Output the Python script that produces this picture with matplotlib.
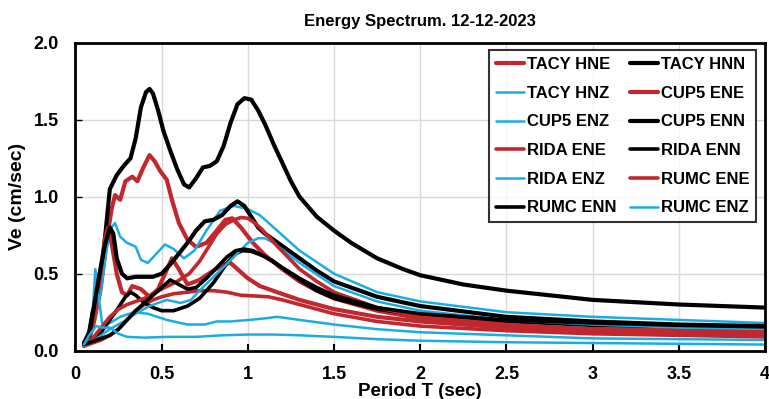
import matplotlib
matplotlib.use("Agg")
import matplotlib.pyplot as plt

plt.rcParams["font.family"] = ["Liberation Sans", "DejaVu Sans"]
plt.rcParams["font.weight"] = "bold"

RED = "#C1272D"
BLUE = "#1AADE4"
BLACK = "#000000"

# period (sec) / Ve (cm/sec)
t_tacy_hne = [0.05, 0.08, 0.11, 0.145, 0.18, 0.21, 0.23, 0.26, 0.29, 0.33, 0.36, 0.39, 0.43, 0.46, 0.49, 0.53, 0.56, 0.6, 0.65, 0.7, 0.76, 0.82, 0.87, 0.91, 0.96, 1.03, 1.1, 1.2, 1.3, 1.4, 1.5, 1.75, 2.0, 2.5, 3.0, 3.5, 4.0]
v_tacy_hne = [0.04, 0.07, 0.2, 0.39, 0.7, 0.92, 1.01, 0.98, 1.1, 1.13, 1.1, 1.18, 1.27, 1.23, 1.17, 1.11, 0.98, 0.83, 0.72, 0.675, 0.7, 0.78, 0.85, 0.86, 0.8, 0.7, 0.62, 0.53, 0.45, 0.39, 0.34, 0.26, 0.21, 0.16, 0.14, 0.13, 0.12]

t_tacy_hnn = [0.05, 0.08, 0.1, 0.13, 0.16, 0.2, 0.24, 0.28, 0.32, 0.35, 0.38, 0.41, 0.43, 0.45, 0.48, 0.51, 0.55, 0.59, 0.63, 0.66, 0.7, 0.74, 0.78, 0.82, 0.86, 0.9, 0.94, 0.98, 1.02, 1.06, 1.1, 1.15, 1.2, 1.25, 1.3, 1.4, 1.5, 1.6, 1.75, 1.9, 2.0, 2.25, 2.5, 2.75, 3.0, 3.25, 3.5, 3.75, 4.0]
v_tacy_hnn = [0.05, 0.12, 0.25, 0.36, 0.6, 1.05, 1.14, 1.2, 1.25, 1.38, 1.58, 1.68, 1.70, 1.67, 1.56, 1.43, 1.3, 1.18, 1.08, 1.06, 1.12, 1.19, 1.2, 1.23, 1.33, 1.48, 1.6, 1.64, 1.63, 1.56, 1.47, 1.34, 1.22, 1.1, 1.0, 0.87, 0.78, 0.7, 0.6, 0.53, 0.49, 0.43, 0.39, 0.36, 0.33, 0.315, 0.30, 0.29, 0.28]

t_tacy_hnz = [0.05, 0.08, 0.11, 0.15, 0.18, 0.21, 0.23, 0.26, 0.3, 0.35, 0.38, 0.42, 0.47, 0.52, 0.57, 0.63, 0.69, 0.76, 0.84, 0.92, 1.0, 1.07, 1.17, 1.3, 1.5, 1.75, 2.0, 2.5, 3.0, 3.5, 4.0]
v_tacy_hnz = [0.05, 0.1, 0.2, 0.4, 0.65, 0.8, 0.83, 0.74, 0.7, 0.675, 0.59, 0.57, 0.63, 0.69, 0.66, 0.6, 0.65, 0.78, 0.91, 0.94, 0.92, 0.88, 0.78, 0.65, 0.5, 0.38, 0.32, 0.25, 0.22, 0.2, 0.18]

t_cup5_ene = [0.05, 0.1, 0.14, 0.17, 0.19, 0.21, 0.24, 0.27, 0.3, 0.33, 0.38, 0.43, 0.48, 0.52, 0.56, 0.6, 0.65, 0.72, 0.8, 0.86, 0.9, 0.95, 1.0, 1.07, 1.17, 1.3, 1.5, 1.75, 2.0, 2.5, 3.0, 3.5, 4.0]
v_cup5_ene = [0.03, 0.15, 0.45, 0.72, 0.8, 0.7, 0.5, 0.38, 0.36, 0.42, 0.4, 0.35, 0.4, 0.5, 0.6, 0.53, 0.43, 0.46, 0.52, 0.56, 0.57, 0.52, 0.47, 0.42, 0.38, 0.33, 0.27, 0.22, 0.19, 0.15, 0.13, 0.12, 0.11]

t_cup5_enz = [0.05, 0.08, 0.1, 0.116, 0.135, 0.155, 0.2, 0.26, 0.34, 0.42, 0.53, 0.65, 0.75, 0.82, 0.9, 1.01, 1.1, 1.17, 1.3, 1.5, 1.75, 2.0, 2.5, 3.0, 3.5, 4.0]
v_cup5_enz = [0.04, 0.1, 0.25, 0.53, 0.35, 0.18, 0.18, 0.22, 0.25, 0.24, 0.2, 0.17, 0.17, 0.19, 0.19, 0.2, 0.21, 0.22, 0.2, 0.17, 0.14, 0.12, 0.1, 0.08, 0.075, 0.07]

t_cup5_enn = [0.05, 0.08, 0.11, 0.14, 0.17, 0.2, 0.22, 0.24, 0.27, 0.3, 0.35, 0.4, 0.45, 0.5, 0.55, 0.6, 0.65, 0.7, 0.75, 0.8, 0.85, 0.9, 0.94, 0.98, 1.02, 1.06, 1.1, 1.15, 1.2, 1.3, 1.4, 1.5, 1.75, 2.0, 2.5, 3.0, 3.5, 4.0]
v_cup5_enn = [0.05, 0.1, 0.3, 0.5, 0.68, 0.8, 0.76, 0.6, 0.5, 0.47, 0.48, 0.48, 0.48, 0.5, 0.56, 0.63, 0.7, 0.78, 0.84, 0.85, 0.88, 0.94, 0.97, 0.94, 0.87, 0.8, 0.76, 0.72, 0.68, 0.6, 0.52, 0.45, 0.35, 0.29, 0.22, 0.19, 0.17, 0.16]

t_rida_ene = [0.05, 0.1, 0.15, 0.2, 0.25, 0.3, 0.35, 0.4, 0.45, 0.5, 0.57, 0.65, 0.72, 0.8, 0.88, 0.96, 1.05, 1.12, 1.2, 1.3, 1.4, 1.5, 1.75, 2.0, 2.5, 3.0, 3.5, 4.0]
v_rida_ene = [0.03, 0.05, 0.07, 0.1, 0.14, 0.2, 0.26, 0.3, 0.33, 0.35, 0.37, 0.38, 0.39, 0.39, 0.38, 0.36, 0.355, 0.35, 0.33, 0.3, 0.27, 0.24, 0.19, 0.16, 0.13, 0.11, 0.1, 0.09]

t_rida_enn = [0.05, 0.1, 0.15, 0.2, 0.25, 0.29, 0.32, 0.35, 0.4, 0.45, 0.5, 0.57, 0.65, 0.72, 0.8, 0.88, 0.93, 0.97, 1.02, 1.08, 1.15, 1.22, 1.3, 1.4, 1.5, 1.75, 2.0, 2.5, 3.0, 3.5, 4.0]
v_rida_enn = [0.05, 0.07, 0.12, 0.2, 0.28, 0.35, 0.38, 0.36, 0.31, 0.28, 0.26, 0.26, 0.29, 0.34, 0.44, 0.57, 0.63, 0.65, 0.645, 0.62, 0.58, 0.52, 0.46, 0.39, 0.34, 0.27, 0.23, 0.19, 0.165, 0.155, 0.145]

t_rida_enz = [0.05, 0.1, 0.15, 0.2, 0.28, 0.35, 0.43, 0.53, 0.61, 0.67, 0.72, 0.82, 0.92, 1.0, 1.06, 1.1, 1.15, 1.3, 1.5, 1.75, 2.0, 2.5, 3.0, 3.5, 4.0]
v_rida_enz = [0.03, 0.06, 0.1, 0.14, 0.19, 0.24, 0.29, 0.33, 0.31, 0.33, 0.39, 0.5, 0.61, 0.7, 0.73, 0.73, 0.7, 0.57, 0.42, 0.32, 0.26, 0.2, 0.17, 0.15, 0.14]

t_rumc_ene = [0.05, 0.1, 0.15, 0.2, 0.25, 0.3, 0.35, 0.4, 0.45, 0.5, 0.59, 0.66, 0.72, 0.77, 0.82, 0.87, 0.92, 0.96, 1.0, 1.04, 1.08, 1.17, 1.3, 1.4, 1.5, 1.75, 2.0, 2.5, 3.0, 3.5, 4.0]
v_rumc_ene = [0.04, 0.08, 0.15, 0.22, 0.27, 0.3, 0.32, 0.34, 0.37, 0.4, 0.45, 0.5, 0.58, 0.67, 0.76, 0.82, 0.85, 0.865, 0.86, 0.83, 0.79, 0.68, 0.53, 0.45, 0.38, 0.28, 0.22, 0.17, 0.14, 0.13, 0.12]

t_rumc_enn = [0.05, 0.1, 0.15, 0.2, 0.25, 0.3, 0.35, 0.4, 0.45, 0.5, 0.55, 0.6, 0.65, 0.7, 0.76, 0.82, 0.88, 0.93, 0.98, 1.03, 1.1, 1.2, 1.3, 1.4, 1.5, 1.75, 2.0, 2.5, 3.0, 3.5, 4.0]
v_rumc_enn = [0.04, 0.06, 0.08, 0.1, 0.14, 0.2, 0.26, 0.31, 0.36, 0.41, 0.46, 0.43, 0.4, 0.41, 0.47, 0.54, 0.61, 0.65, 0.66, 0.65, 0.61, 0.54, 0.47, 0.41, 0.36, 0.28, 0.24, 0.2, 0.18, 0.165, 0.155]

t_rumc_enz = [0.05, 0.08, 0.12, 0.16, 0.2, 0.25, 0.3, 0.4, 0.53, 0.7, 0.85, 1.0, 1.15, 1.3, 1.5, 1.75, 2.0, 2.5, 3.0, 3.5, 4.0]
v_rumc_enz = [0.04, 0.1, 0.16, 0.15, 0.15, 0.11, 0.09, 0.085, 0.09, 0.09, 0.1, 0.105, 0.105, 0.1, 0.09, 0.075, 0.065, 0.055, 0.05, 0.045, 0.04]

labels = ["TACY HNE", "TACY HNN", "TACY HNZ", "CUP5 ENE", "CUP5 ENZ", "CUP5 ENN",
          "RIDA ENE", "RIDA ENN", "RIDA ENZ", "RUMC ENE", "RUMC ENN", "RUMC ENZ"]
periods = [t_tacy_hne, t_tacy_hnn, t_tacy_hnz, t_cup5_ene, t_cup5_enz, t_cup5_enn,
           t_rida_ene, t_rida_enn, t_rida_enz, t_rumc_ene, t_rumc_enn, t_rumc_enz]
values = [v_tacy_hne, v_tacy_hnn, v_tacy_hnz, v_cup5_ene, v_cup5_enz, v_cup5_enn,
          v_rida_ene, v_rida_enn, v_rida_enz, v_rumc_ene, v_rumc_enn, v_rumc_enz]
colors = [RED, BLACK, BLUE, RED, BLUE, BLACK, RED, BLACK, BLUE, RED, BLACK, BLUE]
widths = [3.0, 3.0, 1.8, 3.0, 1.8, 3.0, 2.6, 2.6, 1.8, 2.6, 2.6, 1.8]

fig = plt.figure(figsize=(7.69, 3.99), dpi=100)
ax = fig.add_axes([0.098, 0.121, 0.897, 0.772])

lines = []
for t, v, c, w, lab in zip(periods, values, colors, widths, labels):
    ln, = ax.plot(t, v, color=c, lw=w, label=lab, solid_joinstyle="round", solid_capstyle="round")
    lines.append(ln)

ax.set_xlim(0, 4)
ax.set_ylim(0, 2.0)
ax.set_xticks([0, 0.5, 1, 1.5, 2, 2.5, 3, 3.5, 4])
ax.set_xticklabels(["0", "0.5", "1", "1.5", "2", "2.5", "3", "3.5", "4"])
ax.set_yticks([0, 0.5, 1.0, 1.5, 2.0])
ax.set_yticklabels(["0.0", "0.5", "1.0", "1.5", "2.0"])
ax.tick_params(axis="x", direction="in", length=5, width=1.5, labelsize=13, pad=11)
ax.tick_params(axis="y", direction="in", length=5, width=1.0, labelsize=13, pad=12)
ax.grid(True, color="#d9d9d9", lw=1)
ax.set_axisbelow(True)
for s in ax.spines.values():
    s.set_linewidth(2)

ax.set_xlabel("Period T (sec)", fontsize=13.5, fontweight="bold", labelpad=0)
ax.set_ylabel("Ve (cm/sec)", fontsize=14, fontweight="bold", labelpad=5)
ax.set_title("Energy Spectrum. 12-12-2023", fontsize=12, fontweight="bold", pad=12)

# legend in the reference reads across rows, matplotlib fills columns
order = [0, 2, 4, 6, 8, 10, 1, 3, 5, 7, 9, 11]
leg = ax.legend([lines[i] for i in order], [labels[i] for i in order],
                ncol=2, loc="upper right", bbox_to_anchor=(0.987, 0.976),
                borderaxespad=0, fontsize=12, frameon=True, fancybox=False,
                edgecolor="black", handlelength=1.7, handletextpad=0.15,
                columnspacing=0.8, labelspacing=0.82, borderpad=0.42)
leg.get_frame().set_linewidth(1.5)
for txt in leg.get_texts():
    txt.set_fontweight("bold")

fig.savefig("out.png", dpi=100)
